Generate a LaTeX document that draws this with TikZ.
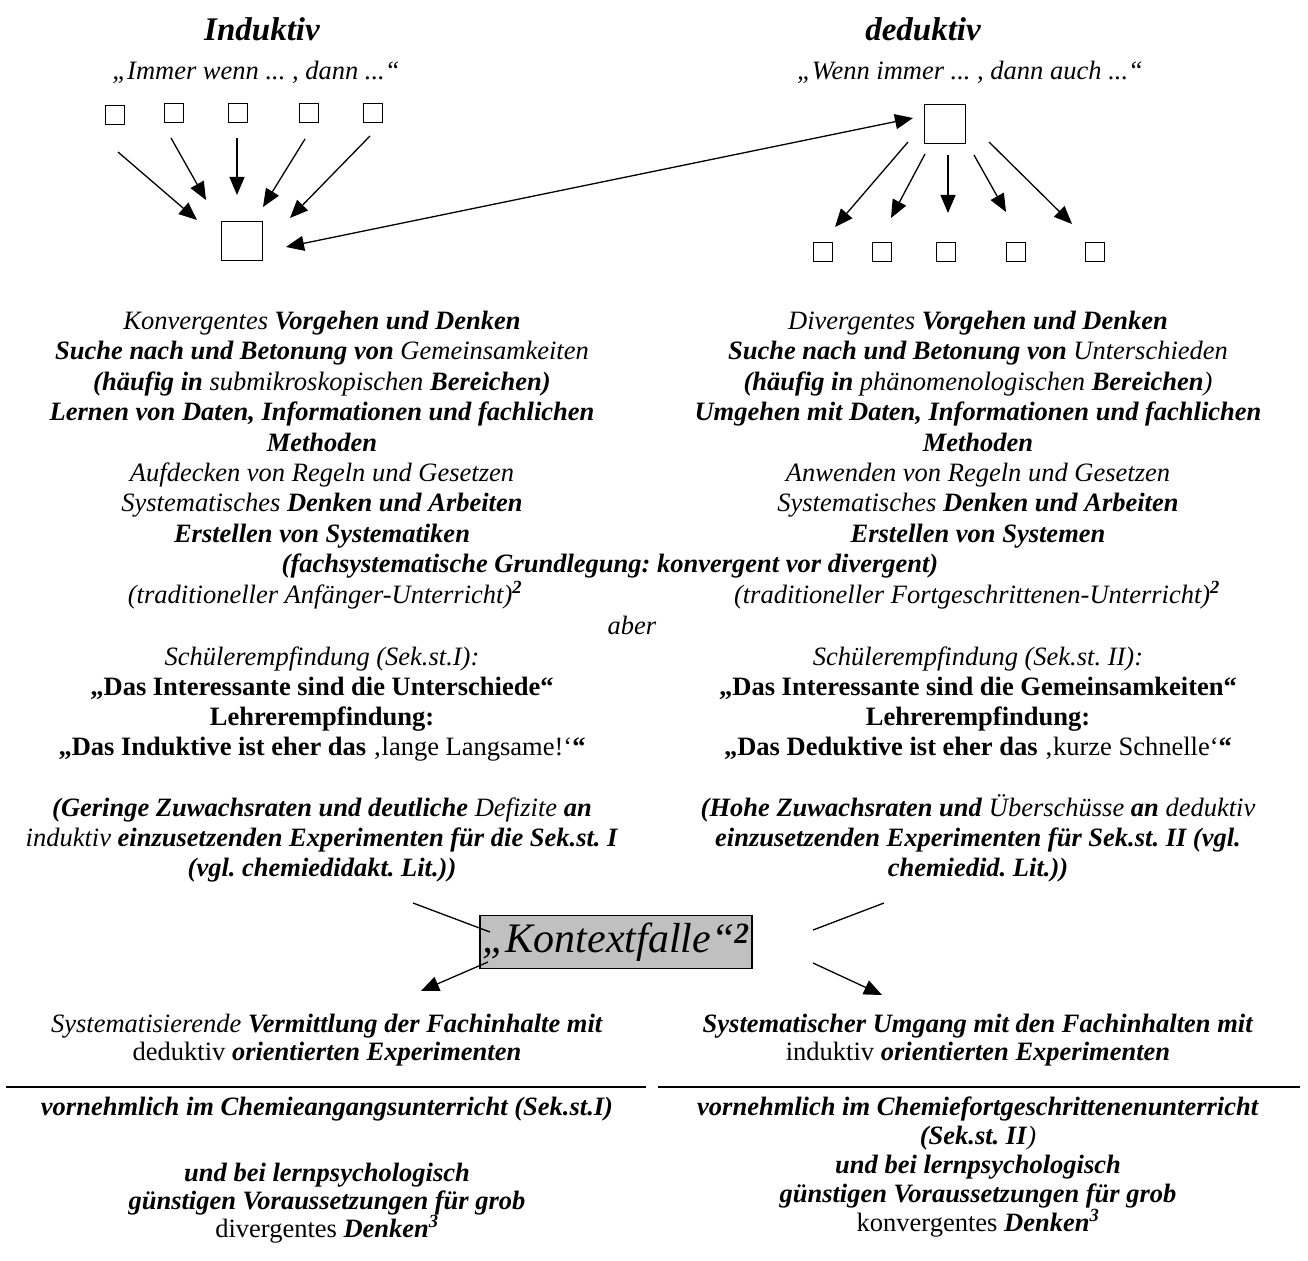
\documentclass[tikz,border=0pt]{standalone}
\usepackage{fontspec}
\setmainfont{Liberation Serif}
\usetikzlibrary{arrows.meta}
\definecolor{boxgray}{RGB}{192,192,192}
\newcommand{\bodyfs}{\fontsize{26.5}{30}\selectfont}
\newcommand{\bi}[1]{\textbf{\textit{#1}}}
\frenchspacing
\begin{document}
\begin{tikzpicture}[x=1pt,y=-1pt,
  txt/.style={font=\bodyfs, inner sep=0pt, anchor=base},
  ttl/.style={font=\fontsize{33}{38}\selectfont\bfseries\itshape, inner sep=0pt, anchor=base},
  sq/.style={draw, line width=1.3pt, minimum width=19pt, minimum height=19pt, inner sep=0pt},
  bigsq/.style={draw, line width=1.3pt, minimum width=41pt, minimum height=39pt, inner sep=0pt},
  arr/.style={line width=1.3pt, -{Triangle[length=18pt,width=15pt]}},
  darr/.style={line width=1.3pt, {Triangle[length=18pt,width=15pt]}-{Triangle[length=18pt,width=15pt]}},
  plain/.style={line width=1.3pt},
  rulel/.style={line width=2pt},
]
\useasboundingbox (0,0) rectangle (1308,1260);

% titles
\node[ttl] (tind) at (262,41) {Induktiv};
\node[ttl] (tded) at (923,41) {deduktiv};
\node[txt] (sind) at (256,80) {\itshape „Immer wenn ... , dann ...“};
\node[txt] (sded) at (970,80) {\itshape „Wenn immer ... , dann auch ...“};

% inductive squares
\node[sq] (i1) at (115,115) {};
\node[sq] (i2) at (174,113) {};
\node[sq] (i3) at (238,113) {};
\node[sq] (i4) at (309,113) {};
\node[sq] (i5) at (373,113) {};
\node[bigsq] (ib) at (242,241) {};

\coordinate (ia1) at (118,152); \coordinate (ib1) at (197,220);
\coordinate (ia2) at (171,138); \coordinate (ib2) at (206,200);
\coordinate (ia3) at (237,138); \coordinate (ib3) at (237,195);
\coordinate (ia4) at (305,139); \coordinate (ib4) at (263,207);
\coordinate (ia5) at (370,136); \coordinate (ib5) at (290,218);
\foreach \k in {1,...,5} {\draw[arr] (ia\k) -- (ib\k);}

% deductive squares
\node[bigsq] (db) at (945,124) {};
\node[sq] (d1) at (823,252) {};
\node[sq] (d2) at (882,252) {};
\node[sq] (d3) at (946,252) {};
\node[sq] (d4) at (1016,252) {};
\node[sq] (d5) at (1095,252) {};

\coordinate (da1) at (908,142); \coordinate (db1) at (835,227);
\coordinate (da2) at (925,154); \coordinate (db2) at (891,218);
\coordinate (da3) at (948,155); \coordinate (db3) at (948,213);
\coordinate (da4) at (974,155); \coordinate (db4) at (1006,212);
\coordinate (da5) at (989,142); \coordinate (db5) at (1072,224);
\foreach \k in {1,...,5} {\draw[arr] (da\k) -- (db\k);}

% long double arrow
\coordinate (lx1) at (286,247);
\coordinate (lx2) at (913,118);
\draw[darr] (lx1) -- (lx2);

% left column text
\node[txt] (l0) at (322,329) {\textit{Konvergentes} \bi{Vorgehen und Denken}};
\node[txt] (l1) at (322,359) {\bi{Suche nach und Betonung von} \textit{Gemeinsamkeiten}};
\node[txt] (l2) at (322,390) {\bi{(häufig in} \textit{submikroskopischen} \bi{Bereichen)}};
\node[txt] (l3) at (322,420) {\bi{Lernen von Daten, Informationen und fachlichen}};
\node[txt] (l4) at (322,451) {\bi{Methoden}};
\node[txt] (l5) at (322,481) {\textit{Aufdecken von Regeln und Gesetzen}};
\node[txt] (l6) at (322,511) {\textit{Systematisches} \bi{Denken und Arbeiten}};
\node[txt] (l7) at (322,542) {\bi{Erstellen von Systematiken}};
\node[txt] (m8) at (610,572) {\bi{(fachsystematische Grundlegung: konvergent vor divergent)}};
\node[txt] (l9) at (325,603) {\textit{(traditioneller Anfänger-Unterricht)}\textsuperscript{\bi{2}}};
\node[txt] (m10) at (632,634) {\textit{aber}};
\node[txt] (l11) at (322,665) {\textit{Schülerempfindung (Sek.st.I):}};
\node[txt] (l12) at (322,695) {\textbf{„Das Interessante sind die Unterschiede“}};
\node[txt] (l13) at (322,725) {\textbf{Lehrerempfindung:}};
\node[txt] (l14) at (322,755) {\textbf{„Das Induktive ist eher das} ‚lange Langsame!‘\textbf{“}};
\node[txt] (l16) at (322,816) {\bi{(Geringe Zuwachsraten und deutliche} \textit{Defizite} \bi{an}};
\node[txt] (l17) at (322,846) {\textit{induktiv} \bi{einzusetzenden Experimenten für die Sek.st. I}};
\node[txt] (l18) at (322,876) {\bi{(vgl. chemiedidakt. Lit.))}};

% right column text
\node[txt] (r0) at (978,329) {\textit{Divergentes} \bi{Vorgehen und Denken}};
\node[txt] (r1) at (978,359) {\bi{Suche nach und Betonung von} \textit{Unterschieden}};
\node[txt] (r2) at (978,390) {\bi{(häufig in} \textit{phänomenologischen} \bi{Bereichen}\textit{)}};
\node[txt] (r3) at (978,420) {\bi{Umgehen mit Daten, Informationen und fachlichen}};
\node[txt] (r4) at (978,451) {\bi{Methoden}};
\node[txt] (r5) at (978,481) {\textit{Anwenden von Regeln und Gesetzen}};
\node[txt] (r6) at (978,511) {\textit{Systematisches} \bi{Denken und Arbeiten}};
\node[txt] (r7) at (978,542) {\bi{Erstellen von Systemen}};
\node[txt] (r9) at (977,603) {\textit{(traditioneller Fortgeschrittenen-Unterricht)}\textsuperscript{\bi{2}}};
\node[txt] (r11) at (978,665) {\textit{Schülerempfindung (Sek.st. II):}};
\node[txt] (r12) at (978,695) {\textbf{„Das Interessante sind die Gemeinsamkeiten“}};
\node[txt] (r13) at (978,725) {\textbf{Lehrerempfindung:}};
\node[txt] (r14) at (978,755) {\textbf{„Das Deduktive ist eher das} ‚kurze Schnelle‘\textbf{“}};
\node[txt] (r16) at (978,816) {\bi{(Hohe Zuwachsraten und} \textit{Überschüsse} \bi{an} \textit{deduktiv}};
\node[txt] (r17) at (978,846) {\bi{einzusetzenden Experimenten für Sek.st. II (vgl.}};
\node[txt] (r18) at (978,876) {\bi{chemiedid. Lit.))}};

% Kontextfalle
\node[draw, fill=boxgray, line width=1.5pt, minimum width=272pt, minimum height=53pt, inner sep=0pt,
      font=\fontsize{42}{46}\selectfont\itshape] (kf) at (616,942) {\raisebox{-3pt}{„Kontextfalle“\textsuperscript{\textbf{2}}}};

\coordinate (kl1) at (413,903); \coordinate (kl2) at (490,932);
\coordinate (kl3) at (488,962); \coordinate (kl4) at (421,991);
\coordinate (kr1) at (884,903); \coordinate (kr2) at (813,930);
\coordinate (kr3) at (813,963); \coordinate (kr4) at (882,995);
\draw[plain] (kl1) -- (kl2);
\draw[arr] (kl3) -- (kl4);
\draw[plain] (kr1) -- (kr2);
\draw[arr] (kr3) -- (kr4);

% bottom left
\node[txt] (bl0) at (327,1032) {\textit{Systematisierende} \bi{Vermittlung der Fachinhalte mit}};
\node[txt] (bl1) at (327,1060) {deduktiv \bi{orientierten Experimenten}};
\coordinate (rl1) at (6,1087); \coordinate (rl2) at (646,1087);
\draw[rulel] (rl1) -- (rl2);
\node[txt] (bl2) at (327,1115) {\bi{vornehmlich im Chemieangangsunterricht (Sek.st.I)}};
\node[txt] (bl4) at (327,1181) {\bi{und bei lernpsychologisch}};
\node[txt] (bl5) at (327,1209) {\bi{günstigen Voraussetzungen für grob}};
\node[txt] (bl6) at (327,1237) {divergentes \bi{Denken}\textsuperscript{\bi{3}}};

% bottom right
\node[txt] (br0) at (978,1032) {\bi{Systematischer Umgang mit den Fachinhalten mit}};
\node[txt] (br1) at (978,1060) {induktiv \bi{orientierten Experimenten}};
\coordinate (rr1) at (658,1087); \coordinate (rr2) at (1300,1087);
\draw[rulel] (rr1) -- (rr2);
\node[txt] (br2) at (978,1115) {\bi{vornehmlich im Chemiefortgeschrittenenunterricht}};
\node[txt] (br3) at (978,1144) {\bi{(Sek.st. II}\textit{)}};
\node[txt] (br4) at (978,1173) {\bi{und bei lernpsychologisch}};
\node[txt] (br5) at (978,1202) {\bi{günstigen Voraussetzungen für grob}};
\node[txt] (br6) at (978,1231) {konvergentes \bi{Denken}\textsuperscript{\bi{3}}};
\end{tikzpicture}
\end{document}
